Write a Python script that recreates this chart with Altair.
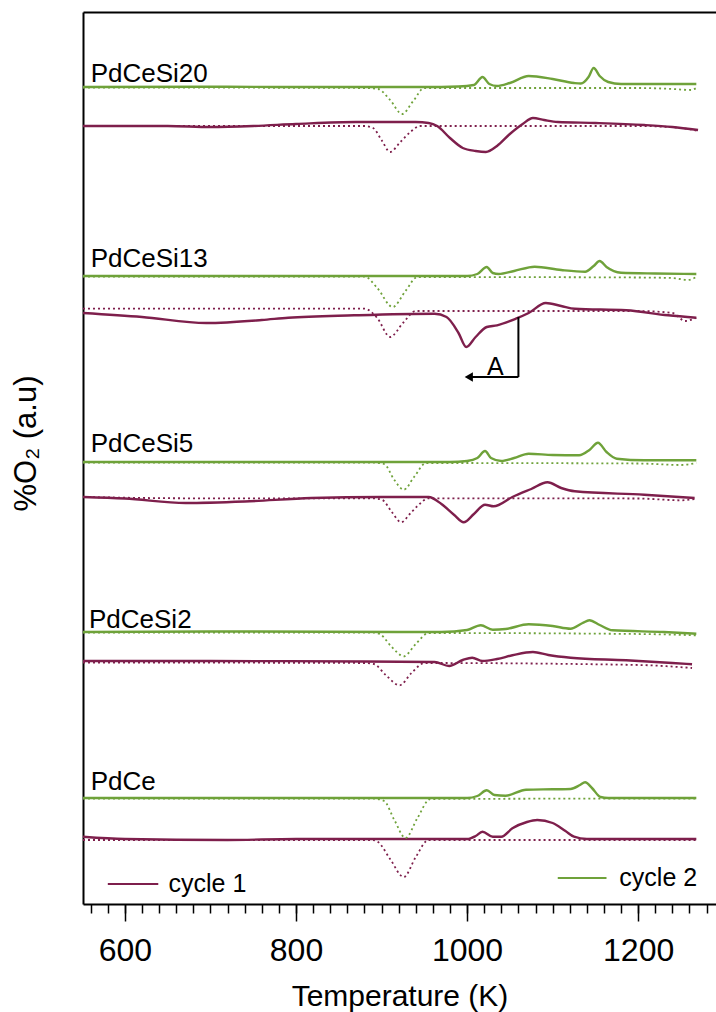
import altair as alt
import pandas as pd

PURPLE = "#7E1F4C"
GREEN = "#6FA23A"
FONT = "Liberation Sans"

# ---------------- data (temperature in K, signal in a.u.) ----------------
samples = ["PdCeSi20", "PdCeSi13", "PdCeSi5", "PdCeSi2", "PdCe"]
offset_c2 = [817, 628, 442, 272, 106]     # vertical offset of cycle-2 trace
offset_c1 = [778, 591, 407, 243, 65]      # vertical offset of cycle-1 trace
label_T = [560, 560, 560, 558, 560]
label_v = [822, 637, 452, 276, 114]

# each curve: (temperature, deviation from its offset)
si20_c2_solid = [(551, 0), (700, 0.3), (800, 0), (950, 0), (990, 0.5), (1008, 2), (1018, 10), (1026, 3),
                 (1035, 1), (1050, 4), (1072, 11), (1100, 8), (1125, 4), (1133, 3.5), (1142, 10), (1148, 19),
                 (1155, 11), (1165, 5), (1180, 3), (1220, 3), (1268, 3)]
si20_c2_dot = [(551, -0.5), (880, -1), (896, -2), (910, -13), (924, -27), (937, -14), (950, -1), (1200, -1),
               (1240, -2), (1262, -3), (1268, -1)]
si20_c1_solid = [(551, 0), (650, 0), (700, -1), (750, 0), (800, 2), (870, 4), (940, 4), (955, 3), (965, 0),
                 (980, -12), (995, -22), (1010, -25), (1022, -26), (1035, -20), (1050, -8), (1065, 2),
                 (1077, 8), (1090, 6), (1106, 4), (1150, 3), (1207, 1), (1240, -1), (1270, -4)]
si20_c1_dot = [(551, 0), (880, 0), (890, -2), (900, -14), (910, -26), (922, -16), (935, -5), (945, 0),
               (1200, 0), (1250, -2), (1270, -5)]

si13_c2_solid = [(551, 0), (1000, 0), (1012, 2), (1023, 9), (1030, 3), (1037, 2), (1055, 5), (1079, 9.3),
                 (1110, 6), (1138, 4.3), (1148, 10), (1155, 15), (1163, 9), (1180, 3.3), (1220, 2.5), (1268, 2)]
si13_c2_dot = [(551, -0.5), (880, -0.5), (895, -12), (913, -31), (928, -15), (942, -1), (1200, -1.5),
               (1240, -2), (1258, -4), (1268, -1)]
si13_c1_solid = [(551, 0), (620, -4), (695, -10), (760, -7), (791, -4.7), (868, -2.3), (962, -0.7), (976, -4),
                 (990, -20), (999, -34), (1010, -24), (1023, -14), (1035, -12.3), (1057, -5.7), (1072, 0),
                 (1092, 10), (1110, 7), (1126, 4.3), (1186, 2.7), (1235, -2.3), (1268, -4.7)]
si13_c1_dot = [(551, 4.3), (880, 4.3), (895, -5), (910, -24), (925, -10), (940, 2), (1000, 2), (1200, 2),
               (1240, 0), (1255, -8), (1268, -4.7)]

si5_c2_solid = [(551, 0), (980, 0), (1000, 1), (1012, 4), (1021, 11), (1028, 4), (1040, 1), (1055, 4),
                (1072, 8.3), (1100, 7), (1131, 6.7), (1143, 12), (1153, 19.3), (1163, 10), (1175, 3.3),
                (1207, 1.7), (1268, 1.7)]
si5_c2_dot = [(551, -0.5), (890, -0.5), (903, -2), (915, -18), (926, -27.7), (938, -15), (952, -1),
              (1200, -1.5), (1250, -3), (1268, -1)]
si5_c1_solid = [(551, 0), (600, -1.5), (671, -6), (740, -4.5), (818, -1), (900, 0), (955, 0), (970, -7),
                (985, -18), (996, -25.3), (1008, -17), (1021, -7.7), (1031, -9.3), (1053, 0), (1075, 8),
                (1094, 14.7), (1110, 9), (1126, 5.7), (1207, 2.3), (1266, -1)]
si5_c1_dot = [(551, 0), (680, -1.3), (890, -1.3), (901, -3), (912, -15), (923, -25.3), (933, -17), (942, -9),
              (955, -1.3), (1200, -1.5), (1250, -3.3), (1266, -2)]

si2_c2_solid = [(551, 0), (700, 0.5), (970, 0), (1000, 2), (1016, 6.7), (1030, 2.3), (1045, 3), (1072, 7.7),
                (1100, 6), (1121, 3.3), (1135, 9), (1143, 11.7), (1155, 7), (1170, 1.7), (1230, 0), (1268, -1.7)]
si2_c2_dot = [(551, -0.5), (890, -0.5), (898, -2), (912, -15), (926, -24.3), (940, -12), (955, -1),
              (1200, -2), (1268, -3.3)]
si2_c1_solid = [(551, 0), (700, 0), (880, -0.5), (962, -1), (979, -5), (995, 1), (1006, 3.3), (1018, 0),
                (1035, 2), (1053, 5.7), (1077, 9), (1095, 6), (1121, 3.3), (1186, 0.7), (1240, -2), (1263, -3.3)]
si2_c1_dot = [(551, -1.5), (880, -2), (891, -3), (905, -14), (921, -24.3), (935, -12), (950, -2),
              (1200, -4), (1263, -7)]

pdce_c2_solid = [(551, 0), (1000, 0), (1012, 2), (1023, 7.7), (1032, 3), (1045, 2.3), (1069, 8.3),
                 (1100, 8.7), (1121, 9), (1132, 13), (1138, 15.7), (1146, 10), (1156, 1), (1165, 0), (1268, 0)]
pdce_c2_dot = [(551, -0.5), (890, -0.5), (903, -3), (915, -22), (928, -40), (942, -20), (957, -1),
               (1268, -0.5)]
pdce_c1_solid = [(551, 2.3), (600, 0), (720, -1), (800, 0), (1000, 0), (1010, 3), (1018, 7.3), (1030, 2.3),
                 (1040, 2.3), (1053, 10.7), (1070, 17), (1082, 19), (1100, 16), (1115, 8), (1125, 2.3),
                 (1140, 0), (1268, 0)]
pdce_c1_dot = [(551, -1), (890, -1), (896, -3), (910, -20), (926, -38), (940, -18), (955, -1), (1268, -1)]

# legend entries and arrow annotation (data coordinates)
legend_names = ["cycle 1", "cycle 2"]
legend_T1 = [580, 1106]
legend_T2 = [639, 1163]
legend_text_T = [651, 1178]
legend_v = [20, 26]

arrow_T = 1060
arrow_v_top = 587
arrow_v_bottom = 527
arrow_T_end = 1002
arrow_label = "A"
arrow_label_T = 1033
arrow_label_v = 529

# ---------------- build tables ----------------
curve_sets = [
    (si20_c2_solid, si20_c2_dot, si20_c1_solid, si20_c1_dot),
    (si13_c2_solid, si13_c2_dot, si13_c1_solid, si13_c1_dot),
    (si5_c2_solid, si5_c2_dot, si5_c1_solid, si5_c1_dot),
    (si2_c2_solid, si2_c2_dot, si2_c1_solid, si2_c1_dot),
    (pdce_c2_solid, pdce_c2_dot, pdce_c1_solid, pdce_c1_dot),
]
rows = []
for i, (c2s, c2d, c1s, c1d) in enumerate(curve_sets):
    for pts, cyc, style, off in [(c2s, "cycle 2", "solid", offset_c2[i]), (c2d, "cycle 2", "dot", offset_c2[i]),
                                 (c1s, "cycle 1", "solid", offset_c1[i]), (c1d, "cycle 1", "dot", offset_c1[i])]:
        for t, d in pts:
            rows.append({"T": t, "v": off + d, "sample": samples[i], "cycle": cyc, "style": style,
                         "key": samples[i] + cyc})
df = pd.DataFrame(rows)
df_solid = df[df["style"] == "solid"]
df_dot = df[df["style"] == "dot"]

df_labels = pd.DataFrame({"T": label_T, "v": label_v, "text": samples})
df_leg = pd.DataFrame({"T": legend_T1, "T2": legend_T2, "Tt": legend_text_T, "v": legend_v,
                       "cycle": legend_names})
df_arrow_v = pd.DataFrame({"T": [arrow_T], "v": [arrow_v_top], "v2": [arrow_v_bottom]})
df_arrow_h = pd.DataFrame({"T": [arrow_T], "T2": [arrow_T_end], "v": [arrow_v_bottom]})
df_arrow_head = pd.DataFrame({"T": [arrow_T_end], "v": [arrow_v_bottom]})
df_arrow_lab = pd.DataFrame({"T": [arrow_label_T], "v": [arrow_label_v], "text": [arrow_label]})

# ---------------- scales & axes ----------------
xs = alt.Scale(domain=[551, 1291], nice=False, zero=False)
ys = alt.Scale(domain=[0, 892], nice=False, zero=False)
cs = alt.Scale(domain=["cycle 1", "cycle 2"], range=[PURPLE, GREEN])

minor_axis = alt.Axis(orient="bottom", values=list(range(560, 1291, 20)), labels=False, tickSize=9,
                      tickWidth=1.5, tickColor="black", domain=True, domainColor="black", domainWidth=2,
                      grid=False, title=None)
major_axis = alt.Axis(orient="bottom", values=[600, 800, 1000, 1200], format="d", tickSize=17, tickWidth=1.5,
                      tickColor="black", domain=False, grid=False, labelFontSize=32, labelFont=FONT,
                      labelColor="black", labelPadding=14, labelFlush=False, title="Temperature (K)",
                      titleFontSize=30, titleFont=FONT, titleFontWeight="normal", titleColor="black",
                      titlePadding=15)
top_axis = alt.Axis(orient="top", ticks=False, labels=False, domain=True, domainColor="black",
                    domainWidth=2, grid=False, title=None)
y_axis = alt.Axis(orient="left", ticks=False, labels=False, domain=True, domainColor="black", domainWidth=2,
                  grid=False, title="%O\u2082 (a.u)", titleFontSize=31, titleFont=FONT,
                  titleFontWeight="normal", titleColor="black", titlePadding=41, titleY=431)

solid = alt.Chart(df_solid).mark_line(interpolate="monotone", strokeWidth=2.4).encode(
    x=alt.X("T:Q", scale=xs, axis=minor_axis),
    y=alt.Y("v:Q", scale=ys, axis=y_axis),
    color=alt.Color("cycle:N", scale=cs, legend=None),
    detail="key:N",
)
dotted = alt.Chart(df_dot).mark_line(interpolate="monotone", strokeWidth=1.8, strokeDash=[2, 3]).encode(
    x=alt.X("T:Q", scale=xs, axis=major_axis),
    y=alt.Y("v:Q", scale=ys, axis=None),
    color=alt.Color("cycle:N", scale=cs, legend=None),
    detail="key:N",
)
labels = alt.Chart(df_labels).mark_text(align="left", baseline="alphabetic", fontSize=26, font=FONT,
                                        color="black").encode(
    x=alt.X("T:Q", scale=xs, axis=top_axis),
    y=alt.Y("v:Q", scale=ys, axis=None),
    text="text:N",
)
leg_lines = alt.Chart(df_leg).mark_rule(strokeWidth=2).encode(
    x=alt.X("T:Q", scale=xs, axis=None), x2="T2:Q",
    y=alt.Y("v:Q", scale=ys, axis=None),
    color=alt.Color("cycle:N", scale=cs, legend=None),
)
leg_text = alt.Chart(df_leg).mark_text(align="left", baseline="middle", fontSize=25, font=FONT,
                                       color="black").encode(
    x=alt.X("Tt:Q", scale=xs, axis=None),
    y=alt.Y("v:Q", scale=ys, axis=None),
    text="cycle:N",
)
arr_v = alt.Chart(df_arrow_v).mark_rule(strokeWidth=2, color="black").encode(
    x=alt.X("T:Q", scale=xs, axis=None), y=alt.Y("v:Q", scale=ys, axis=None), y2="v2:Q")
arr_h = alt.Chart(df_arrow_h).mark_rule(strokeWidth=2, color="black").encode(
    x=alt.X("T:Q", scale=xs, axis=None), x2="T2:Q", y=alt.Y("v:Q", scale=ys, axis=None))
arr_head = alt.Chart(df_arrow_head).mark_point(shape="triangle-left", filled=True, size=90, color="black",
                                               opacity=1).encode(
    x=alt.X("T:Q", scale=xs, axis=None), y=alt.Y("v:Q", scale=ys, axis=None))
arr_lab = alt.Chart(df_arrow_lab).mark_text(align="center", baseline="alphabetic", fontSize=25, font=FONT,
                                            color="black").encode(
    x=alt.X("T:Q", scale=xs, axis=None), y=alt.Y("v:Q", scale=ys, axis=None), text="text:N")

chart = alt.layer(solid, dotted, labels, leg_lines, leg_text, arr_v, arr_h, arr_head, arr_lab).resolve_axis(
    x="independent", y="independent"
).properties(
    width=633, height=892,
    autosize=alt.AutoSizeParams(type="none"),
    padding={"left": 83, "top": 12, "right": 0, "bottom": 108},
    background="white",
).configure_view(stroke=None)

chart.save("out.html", embed_options={"renderer": "svg", "actions": False})
